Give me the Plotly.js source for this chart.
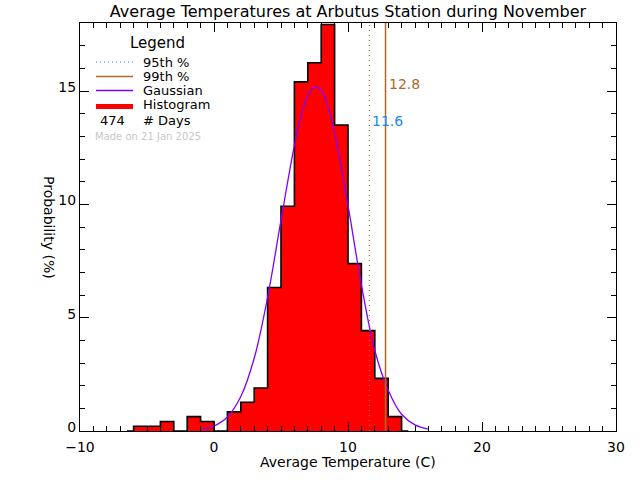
<!DOCTYPE html>
<html>
<head>
<meta charset="utf-8">
<script src="https://cdn.plot.ly/plotly-3.0.1.min.js"></script>
<style>html,body{margin:0;padding:0;background:#fff;}#chart{width:640px;height:480px;}</style>
</head>
<body>
<div id="chart"></div>
<script>
// Histogram bins (centre of each 1-degree bin) and probability (%) — 474 days
var binCenters = [-5.5, -4.5, -3.5, -2.5, -1.5, -0.5, 0.5, 1.5, 2.5, 3.5, 4.5, 5.5, 6.5, 7.5, 8.5, 9.5, 10.5, 11.5, 12.5, 13.5];
var binProb    = [0.211, 0.211, 0.422, 0, 0.633, 0.422, 0, 0.844, 1.266, 1.899, 6.329, 9.916, 15.401, 16.245, 17.932, 13.502, 7.384, 4.430, 2.321, 0.633];

// Gaussian fit
var gaussX = [-0.8, 0, 1, 2, 3, 4, 5, 6, 6.5, 7, 7.5, 8, 8.5, 9, 10, 11, 12, 13, 14, 15, 16];
var gaussY = [0.085, 0.22, 0.62, 1.52, 3.21, 5.9, 9.3, 12.6, 13.9, 14.8, 15.19, 15.02, 14.32, 13.16, 9.95, 6.45, 3.55, 1.8, 0.74, 0.27, 0.085];

// Percentiles
var p95 = 11.6;
var p99 = 12.8;
var nDays = 474;
var madeOn = "Made on 21 Jan 2025";

var yMax = 18.0;
var font = "DejaVu Sans, Liberation Sans, sans-serif";

// step outline built from the histogram arrays
var stepX = [binCenters[0] - 1].concat(binCenters, [binCenters[binCenters.length - 1] + 1]);
var stepY = [0].concat(binProb, [0]);

var traces = [
  {type: "bar", x: binCenters, y: binProb, width: 1, marker: {color: "#ff0000", line: {width: 0}}, hoverinfo: "skip"},
  {type: "scatter", mode: "lines", x: stepX, y: stepY, line: {color: "#000000", width: 1.6, shape: "hvh"}, hoverinfo: "skip"},
  {type: "scatter", mode: "lines", x: gaussX, y: gaussY, line: {color: "#8000ff", width: 1.3, shape: "spline"}, hoverinfo: "skip"},
  {type: "scatter", mode: "lines", x: [p95, p95], y: [0, yMax], line: {color: "#a8702e", width: 1.2, dash: "1px,4px"}, hoverinfo: "skip"},
  {type: "scatter", mode: "lines", x: [p99, p99], y: [0, yMax], line: {color: "#b0672a", width: 1.5}, hoverinfo: "skip"}
];

// legend drawn by hand (pixel -> paper helpers)
function px(x) { return (x - 80) / 536; }
function py(y) { return (431 - y) / 408; }

var shapes = [
  {type: "line", xref: "paper", yref: "paper", x0: px(96), x1: px(133), y0: py(62), y1: py(62), line: {color: "#1e88e5", width: 1.2, dash: "1px,3px"}},
  {type: "line", xref: "paper", yref: "paper", x0: px(96), x1: px(133), y0: py(76.5), y1: py(76.5), line: {color: "#b0672a", width: 1.5}},
  {type: "line", xref: "paper", yref: "paper", x0: px(96), x1: px(133), y0: py(90.5), y1: py(90.5), line: {color: "#8000ff", width: 1.5}},
  {type: "line", xref: "paper", yref: "paper", x0: px(96), x1: px(133), y0: py(106.5), y1: py(106.5), line: {color: "#ff0000", width: 5}}
];

function ann(text, x, y, opts) {
  var a = {text: text, xref: "paper", yref: "paper", x: px(x), y: py(y), xanchor: "left", yanchor: "middle",
           showarrow: false, font: {family: font, size: 13, color: "#000"}};
  for (var k in opts) a[k] = opts[k];
  return a;
}

var annotations = [
  ann("Legend", 128, 43, {font: {family: font, size: 15, color: "#000"}}),
  ann("95th %", 141, 62),
  ann("99th %", 141, 76.5),
  ann("Gaussian", 141, 90.5),
  ann("Histogram", 141, 105),
  ann(String(nDays), 98, 120),
  ann("# Days", 141, 120),
  ann(madeOn, 93, 136, {font: {family: font, size: 10, color: "#c8c8c8"}}),
  {text: p99.toFixed(1), xref: "x", yref: "paper", x: p99, y: py(84), xanchor: "left", yanchor: "middle", xshift: 1,
   showarrow: false, font: {family: font, size: 14, color: "#b0672a"}},
  {text: p95.toFixed(1), xref: "x", yref: "paper", x: p95, y: py(121), xanchor: "left", yanchor: "middle", xshift: 1,
   showarrow: false, font: {family: font, size: 14, color: "#1e88e5"}},
  {text: "Average Temperature (C)", xref: "paper", yref: "paper", x: 0.5, y: py(462), xanchor: "center", yanchor: "middle",
   showarrow: false, font: {family: font, size: 14, color: "#000"}},
  {text: "Probability (%)", xref: "paper", yref: "paper", x: px(49), y: 0.5, xanchor: "center", yanchor: "middle", textangle: 90,
   showarrow: false, font: {family: font, size: 14, color: "#000"}}
];

var axisCommon = {
  showgrid: false, zeroline: false, showline: true, linecolor: "#000", linewidth: 1,
  ticks: "inside", ticklen: 9, tickwidth: 1, tickcolor: "#000", mirror: "allticks",
  tickfont: {family: font, size: 14, color: "#000"}
};

var layout = {
  width: 640, height: 480,
  margin: {l: 80, r: 24, t: 23, b: 49, pad: 0},
  paper_bgcolor: "#fff", plot_bgcolor: "#fff",
  showlegend: false,
  bargap: 0,
  title: {text: "Average Temperatures at Arbutus Station during November", x: 0.5, xref: "paper", xanchor: "center",
          y: 1 - 11 / 480, yref: "container", yanchor: "middle", font: {family: font, size: 16, color: "#000"}},
  xaxis: Object.assign({}, axisCommon, {range: [-10, 30], dtick: 10, tick0: 0, ticklabelstandoff: 3,
          minor: {dtick: 1, ticks: "inside", ticklen: 5, tickcolor: "#000", showgrid: false}}),
  yaxis: Object.assign({}, axisCommon, {range: [0, yMax], dtick: 5, tick0: 0, ticklabelshift: -4,
          minor: {dtick: 1, ticks: "inside", ticklen: 5, tickcolor: "#000", showgrid: false}}),
  shapes: shapes,
  annotations: annotations
};

Plotly.newPlot("chart", traces, layout, {staticPlot: true, displayModeBar: false});
</script>
</body>
</html>
